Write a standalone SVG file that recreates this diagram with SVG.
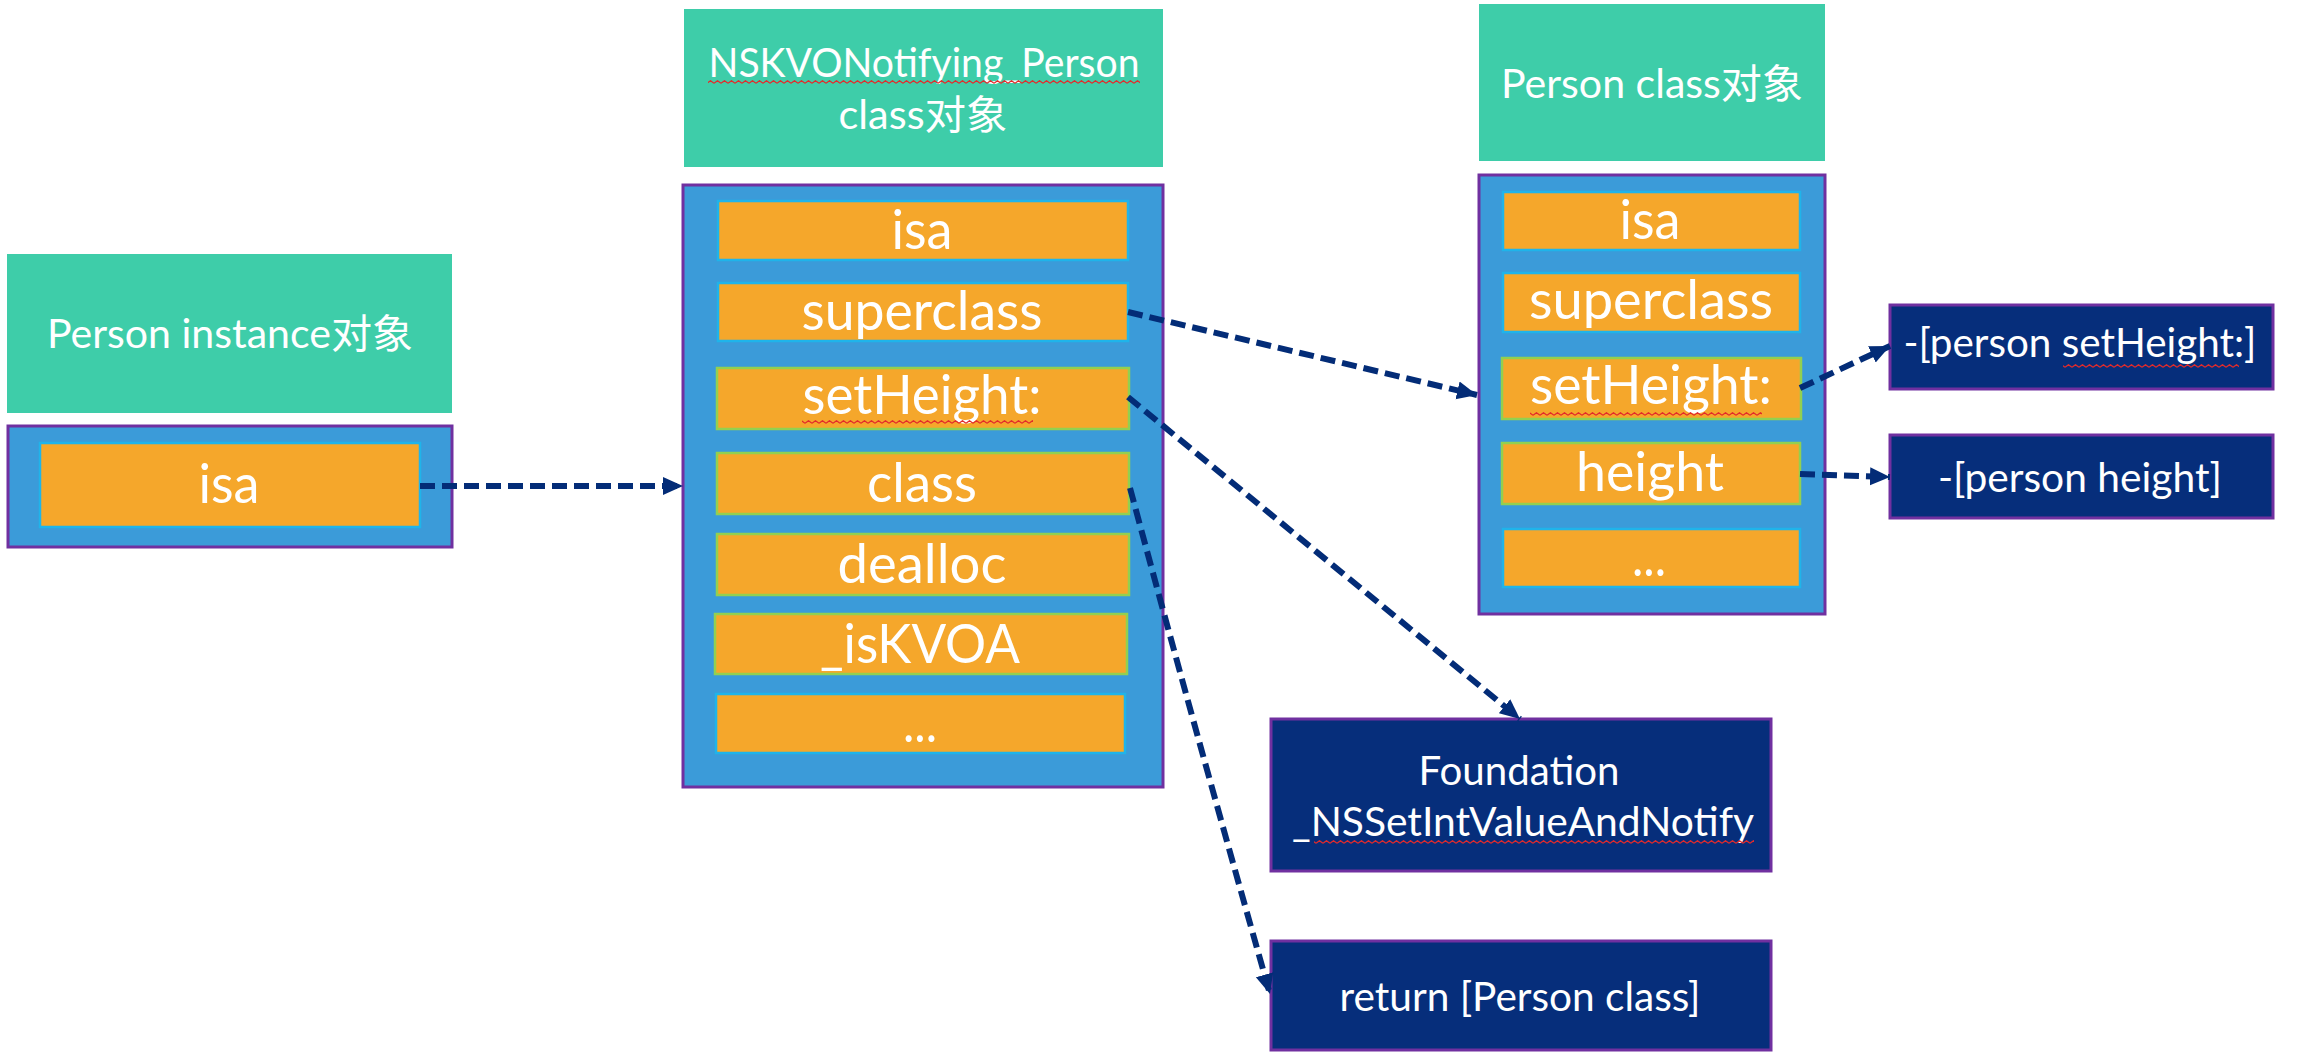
<svg xmlns="http://www.w3.org/2000/svg" width="2320" height="1064" viewBox="0 0 2320 1064">
<style>
  text { font-family: Lato, "Noto Sans CJK SC", sans-serif; fill: #ffffff; text-anchor: middle; }
  .t { font-size: 40px; }
  .r { font-size: 55px; }
  .head { fill: #3ECDA9; }
  .cont { fill: #3B9BD9; stroke: #7030A0; stroke-width: 3; }
  .oc { fill: #F5A72B; stroke: #1FB4EA; stroke-width: 2.5; }
  .og { fill: #F5A72B; stroke: #92D050; stroke-width: 2.5; }
  .dark { fill: #062E7B; stroke: #7030A0; stroke-width: 3; }
  .conn { fill: none; stroke: #032C77; stroke-width: 6; stroke-dasharray: 15 7; marker-end: url(#ah); }
  .wave { fill: url(#wv); }
</style>
<defs>
  <marker id="ah" markerUnits="userSpaceOnUse" markerWidth="22" markerHeight="20" refX="20" refY="10" orient="auto">
    <path d="M0,1 L20,10 L0,19 Z" fill="#032C77"/>
  </marker>
  <pattern id="wv" patternUnits="userSpaceOnUse" width="7" height="4">
    <path d="M0,3.3 L3.5,0.7 L7,3.3" fill="none" stroke="#E32A2A" stroke-width="1.2"/>
  </pattern>
</defs>

<g id="person-instance">
  <rect class="head" x="7" y="254" width="445" height="159"/>
  <text class="t" x="230" y="348" textLength="366" lengthAdjust="spacingAndGlyphs">Person instance对象</text>
  <rect class="cont" x="8" y="426" width="444" height="121"/>
  <rect class="oc" x="40" y="443" width="380" height="84"/>
  <text class="r" x="229" y="503" textLength="61" lengthAdjust="spacingAndGlyphs">isa</text>
</g>

<g id="nskvo-class">
  <rect class="head" x="684" y="9" width="479" height="158"/>
  <text class="t" x="924" y="77" textLength="431" lengthAdjust="spacingAndGlyphs">NSKVONotifying_Person</text>
  <rect class="wave" x="708" y="80" width="432" height="4"/>
  <text class="t" x="923" y="129" textLength="169" lengthAdjust="spacingAndGlyphs">class对象</text>
  <rect class="cont" x="683" y="185" width="480" height="602"/>
  <rect class="oc" x="718" y="201" width="410" height="59"/>
  <text class="r" x="922" y="249" textLength="61" lengthAdjust="spacingAndGlyphs">isa</text>
  <rect class="oc" x="718" y="283" width="410" height="58"/>
  <text class="r" x="922" y="330" textLength="241" lengthAdjust="spacingAndGlyphs">superclass</text>
  <rect class="og" x="717" y="368" width="412" height="61"/>
  <text class="r" x="922" y="414" textLength="239" lengthAdjust="spacingAndGlyphs">setHeight:</text>
  <rect class="wave" x="802" y="420" width="231" height="4"/>
  <rect class="og" x="717" y="453" width="412" height="61"/>
  <text class="r" x="922" y="502" textLength="110" lengthAdjust="spacingAndGlyphs">class</text>
  <rect class="og" x="717" y="534" width="412" height="61"/>
  <text class="r" x="922" y="583" textLength="169" lengthAdjust="spacingAndGlyphs">dealloc</text>
  <rect class="og" x="715" y="614" width="412" height="60"/>
  <text class="r" x="920" y="663" textLength="200" lengthAdjust="spacingAndGlyphs">_isKVOA</text>
  <rect class="oc" x="716" y="694" width="409" height="59"/>
  <text class="r" x="920" y="742" textLength="34" lengthAdjust="spacingAndGlyphs">...</text>
</g>

<g id="person-class">
  <rect class="head" x="1479" y="4" width="346" height="157"/>
  <text class="t" x="1652" y="98" textLength="302" lengthAdjust="spacingAndGlyphs">Person class对象</text>
  <rect class="cont" x="1479" y="175" width="346" height="439"/>
  <rect class="oc" x="1503" y="192" width="297" height="58"/>
  <text class="r" x="1650" y="239" textLength="61" lengthAdjust="spacingAndGlyphs">isa</text>
  <rect class="oc" x="1503" y="273" width="297" height="59"/>
  <text class="r" x="1651" y="319" textLength="244" lengthAdjust="spacingAndGlyphs">superclass</text>
  <rect class="og" x="1502" y="358" width="299" height="61"/>
  <text class="r" x="1651" y="404" textLength="242" lengthAdjust="spacingAndGlyphs">setHeight:</text>
  <rect class="wave" x="1530" y="412" width="232" height="4"/>
  <rect class="og" x="1502" y="443" width="298" height="61"/>
  <text class="r" x="1650" y="491" textLength="148" lengthAdjust="spacingAndGlyphs">height</text>
  <rect class="oc" x="1503" y="529" width="297" height="58"/>
  <text class="r" x="1649" y="576" textLength="34" lengthAdjust="spacingAndGlyphs">...</text>
</g>

<g id="person-setheight">
  <rect class="dark" x="1890" y="305" width="383" height="84"/>
  <text class="t" x="2080" y="357" textLength="353" lengthAdjust="spacingAndGlyphs">-[person setHeight:]</text>
  <rect class="wave" x="2063" y="364" width="176" height="4"/>
</g>

<g id="person-height">
  <rect class="dark" x="1890" y="435" width="383" height="83"/>
  <text class="t" x="2080" y="492" textLength="284" lengthAdjust="spacingAndGlyphs">-[person height]</text>
</g>

<g id="foundation">
  <rect class="dark" x="1271" y="719" width="500" height="152"/>
  <text class="t" x="1519" y="785" textLength="201" lengthAdjust="spacingAndGlyphs">Foundation</text>
  <text class="t" x="1523" y="836" textLength="462" lengthAdjust="spacingAndGlyphs">_NSSetIntValueAndNotify</text>
  <rect class="wave" x="1314" y="840" width="440" height="4"/>
</g>

<g id="return-class">
  <rect class="dark" x="1271" y="941" width="500" height="109"/>
  <text class="t" x="1520" y="1011" textLength="361" lengthAdjust="spacingAndGlyphs">return [Person class]</text>
</g>

<g id="connectors">
  <path class="conn" d="M420,486 L683,486"/>
  <path class="conn" d="M1128,312 L1477,395"/>
  <path class="conn" d="M1128,397 L1520,719"/>
  <path class="conn" d="M1130,488 Q1195,730 1270,994"/>
  <path class="conn" d="M1800,388 L1890,346"/>
  <path class="conn" d="M1800,474 L1890,477"/>
</g>
</svg>
